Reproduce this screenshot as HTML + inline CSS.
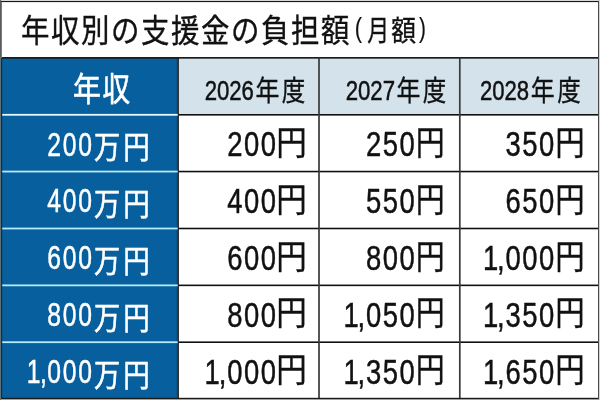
<!DOCTYPE html>
<html lang="ja"><head><meta charset="utf-8"><title>年収別の支援金の負担額（月額）</title>
<style>
html,body{margin:0;padding:0;background:#fff;width:600px;height:400px;overflow:hidden}
svg{display:block}
text{font-kerning:none}
</style></head><body>
<svg width="600" height="400" viewBox="0 0 600 400">
<rect x="0.00" y="0.00" width="600.00" height="400.00" fill="#fff"/>
<rect x="0.00" y="0.00" width="600.00" height="1.00" fill="#ececec"/>
<rect x="0.00" y="399.00" width="600.00" height="1.00" fill="#a0a0a0"/>
<rect x="599.00" y="0.00" width="1.00" height="400.00" fill="#d4d4d4"/>
<rect x="1.60" y="57.85" width="176.70" height="340.55" fill="#075f9d"/>
<rect x="178.30" y="57.85" width="420.00" height="56.95" fill="#d3e2eb"/>
<rect x="176.30" y="57.85" width="1.60" height="340.55" fill="#0a5288"/>
<rect x="1.60" y="113.90" width="176.70" height="1.80" fill="#e8f9ff"/>
<rect x="178.30" y="114.00" width="420.00" height="1.60" fill="#111111"/>
<rect x="1.60" y="170.65" width="176.70" height="1.80" fill="#b2ecfc"/>
<rect x="178.30" y="170.75" width="420.00" height="1.60" fill="#111111"/>
<rect x="1.60" y="227.60" width="176.70" height="1.80" fill="#b2ecfc"/>
<rect x="178.30" y="227.70" width="420.00" height="1.60" fill="#111111"/>
<rect x="1.60" y="284.45" width="176.70" height="1.80" fill="#b2ecfc"/>
<rect x="178.30" y="284.55" width="420.00" height="1.60" fill="#111111"/>
<rect x="1.60" y="341.30" width="176.70" height="1.80" fill="#b2ecfc"/>
<rect x="178.30" y="341.40" width="420.00" height="1.60" fill="#111111"/>
<rect x="1.60" y="57.05" width="596.70" height="1.60" fill="#111111"/>
<rect x="318.15" y="57.85" width="1.70" height="340.55" fill="#3a3a3a"/>
<rect x="458.95" y="57.85" width="1.70" height="340.55" fill="#3a3a3a"/>
<rect x="177.70" y="57.85" width="1.20" height="340.55" fill="#222222"/>
<rect x="1.00" y="0.90" width="597.90" height="1.20" fill="#1a1a1a"/>
<rect x="1.00" y="397.80" width="597.90" height="1.20" fill="#1a1a1a"/>
<rect x="1.00" y="57.85" width="1.20" height="341.15" fill="#0e2f4a"/>
<rect x="598.00" y="0.90" width="1.00" height="398.10" fill="#4a4a4a"/>
<rect x="0.00" y="0.00" width="1.00" height="57.85" fill="#5c5c5c"/>
<rect x="1.00" y="2.10" width="0.90" height="55.75" fill="#6a6a6a"/>
<rect x="0.00" y="57.85" width="1.00" height="342.15" fill="#5e7078"/>
<text x="21.00" y="41.80" font-family="'Liberation Sans', 'Noto Sans CJK JP', sans-serif" font-size="32.30" fill="#111111" stroke="#111111" stroke-width="0.35" textLength="28.43" lengthAdjust="spacingAndGlyphs">年</text>
<text x="51.00" y="41.80" font-family="'Liberation Sans', 'Noto Sans CJK JP', sans-serif" font-size="32.30" fill="#111111" stroke="#111111" stroke-width="0.35" textLength="28.43" lengthAdjust="spacingAndGlyphs">収</text>
<text x="81.00" y="41.80" font-family="'Liberation Sans', 'Noto Sans CJK JP', sans-serif" font-size="32.30" fill="#111111" stroke="#111111" stroke-width="0.35" textLength="28.43" lengthAdjust="spacingAndGlyphs">別</text>
<text x="111.00" y="41.80" font-family="'Liberation Sans', 'Noto Sans CJK JP', sans-serif" font-size="32.30" fill="#111111" stroke="#111111" stroke-width="0.35" textLength="28.43" lengthAdjust="spacingAndGlyphs">の</text>
<text x="141.00" y="41.80" font-family="'Liberation Sans', 'Noto Sans CJK JP', sans-serif" font-size="32.30" fill="#111111" stroke="#111111" stroke-width="0.35" textLength="28.43" lengthAdjust="spacingAndGlyphs">支</text>
<text x="171.00" y="41.80" font-family="'Liberation Sans', 'Noto Sans CJK JP', sans-serif" font-size="32.30" fill="#111111" stroke="#111111" stroke-width="0.35" textLength="28.43" lengthAdjust="spacingAndGlyphs">援</text>
<text x="201.00" y="41.80" font-family="'Liberation Sans', 'Noto Sans CJK JP', sans-serif" font-size="32.30" fill="#111111" stroke="#111111" stroke-width="0.35" textLength="28.43" lengthAdjust="spacingAndGlyphs">金</text>
<text x="231.00" y="41.80" font-family="'Liberation Sans', 'Noto Sans CJK JP', sans-serif" font-size="32.30" fill="#111111" stroke="#111111" stroke-width="0.35" textLength="28.43" lengthAdjust="spacingAndGlyphs">の</text>
<text x="261.00" y="41.80" font-family="'Liberation Sans', 'Noto Sans CJK JP', sans-serif" font-size="32.30" fill="#111111" stroke="#111111" stroke-width="0.35" textLength="28.43" lengthAdjust="spacingAndGlyphs">負</text>
<text x="291.00" y="41.80" font-family="'Liberation Sans', 'Noto Sans CJK JP', sans-serif" font-size="32.30" fill="#111111" stroke="#111111" stroke-width="0.35" textLength="28.43" lengthAdjust="spacingAndGlyphs">担</text>
<text x="321.00" y="41.80" font-family="'Liberation Sans', 'Noto Sans CJK JP', sans-serif" font-size="32.30" fill="#111111" stroke="#111111" stroke-width="0.35" textLength="28.43" lengthAdjust="spacingAndGlyphs">額</text>
<text x="354.79" y="37.10" font-family="'Liberation Sans', sans-serif" font-size="27.40" fill="#111111" stroke="#111111" stroke-width="0.2" textLength="7.29" lengthAdjust="spacingAndGlyphs">(</text>
<text x="367.22" y="40.60" font-family="'Liberation Sans', 'Noto Sans CJK JP', sans-serif" font-size="28.90" fill="#111111" stroke="#111111" stroke-width="0.35" textLength="21.96" lengthAdjust="spacingAndGlyphs">月</text>
<text x="391.26" y="40.60" font-family="'Liberation Sans', 'Noto Sans CJK JP', sans-serif" font-size="28.90" fill="#111111" stroke="#111111" stroke-width="0.35" textLength="24.79" lengthAdjust="spacingAndGlyphs">額</text>
<text x="419.09" y="37.10" font-family="'Liberation Sans', sans-serif" font-size="27.40" fill="#111111" stroke="#111111" stroke-width="0.2" textLength="6.92" lengthAdjust="spacingAndGlyphs">)</text>
<text x="72.90" y="100.60" font-family="'Liberation Sans', 'Noto Sans CJK JP', sans-serif" font-size="32.50" fill="#ffffff" stroke="#ffffff" stroke-width="0.6" textLength="27.96" lengthAdjust="spacingAndGlyphs">年</text>
<text x="102.53" y="100.60" font-family="'Liberation Sans', 'Noto Sans CJK JP', sans-serif" font-size="32.50" fill="#ffffff" stroke="#ffffff" stroke-width="0.6" textLength="27.60" lengthAdjust="spacingAndGlyphs">収</text>
<text x="204.64" y="99.60" font-family="'Liberation Sans', sans-serif" font-size="27.60" fill="#111111" stroke="#111111" stroke-width="0.5" textLength="49.33" lengthAdjust="spacingAndGlyphs">2026</text>
<text x="255.48" y="100.60" font-family="'Liberation Sans', 'Noto Sans CJK JP', sans-serif" font-size="28.10" fill="#111111" stroke="#111111" stroke-width="0.35" textLength="23.92" lengthAdjust="spacingAndGlyphs">年</text>
<text x="281.85" y="100.60" font-family="'Liberation Sans', 'Noto Sans CJK JP', sans-serif" font-size="28.10" fill="#111111" stroke="#111111" stroke-width="0.35" textLength="23.53" lengthAdjust="spacingAndGlyphs">度</text>
<text x="345.64" y="99.60" font-family="'Liberation Sans', sans-serif" font-size="27.60" fill="#111111" stroke="#111111" stroke-width="0.5" textLength="49.45" lengthAdjust="spacingAndGlyphs">2027</text>
<text x="396.48" y="100.60" font-family="'Liberation Sans', 'Noto Sans CJK JP', sans-serif" font-size="28.10" fill="#111111" stroke="#111111" stroke-width="0.35" textLength="23.92" lengthAdjust="spacingAndGlyphs">年</text>
<text x="422.85" y="100.60" font-family="'Liberation Sans', 'Noto Sans CJK JP', sans-serif" font-size="28.10" fill="#111111" stroke="#111111" stroke-width="0.35" textLength="23.53" lengthAdjust="spacingAndGlyphs">度</text>
<text x="479.94" y="99.60" font-family="'Liberation Sans', sans-serif" font-size="27.60" fill="#111111" stroke="#111111" stroke-width="0.5" textLength="49.22" lengthAdjust="spacingAndGlyphs">2028</text>
<text x="530.78" y="100.60" font-family="'Liberation Sans', 'Noto Sans CJK JP', sans-serif" font-size="28.10" fill="#111111" stroke="#111111" stroke-width="0.35" textLength="23.92" lengthAdjust="spacingAndGlyphs">年</text>
<text x="557.15" y="100.60" font-family="'Liberation Sans', 'Noto Sans CJK JP', sans-serif" font-size="28.10" fill="#111111" stroke="#111111" stroke-width="0.35" textLength="23.53" lengthAdjust="spacingAndGlyphs">度</text>
<text x="78.24" y="155.60" font-family="'Liberation Sans', sans-serif" font-size="32.60" fill="#ffffff" stroke="#ffffff" stroke-width="0.5" textLength="13.73" lengthAdjust="spacingAndGlyphs">0</text>
<text x="62.74" y="155.60" font-family="'Liberation Sans', sans-serif" font-size="32.60" fill="#ffffff" stroke="#ffffff" stroke-width="0.5" textLength="13.73" lengthAdjust="spacingAndGlyphs">0</text>
<text x="47.24" y="155.60" font-family="'Liberation Sans', sans-serif" font-size="32.60" fill="#ffffff" stroke="#ffffff" stroke-width="0.5" textLength="13.73" lengthAdjust="spacingAndGlyphs">2</text>
<text x="93.98" y="158.10" font-family="'Liberation Sans', 'Noto Sans CJK JP', sans-serif" font-size="30.50" fill="#ffffff" stroke="#ffffff" stroke-width="0.6" textLength="26.19" lengthAdjust="spacingAndGlyphs">万</text>
<text x="123.22" y="158.10" font-family="'Liberation Sans', 'Noto Sans CJK JP', sans-serif" font-size="30.50" fill="#ffffff" stroke="#ffffff" stroke-width="0.6" textLength="26.43" lengthAdjust="spacingAndGlyphs">円</text>
<text x="78.24" y="212.45" font-family="'Liberation Sans', sans-serif" font-size="32.60" fill="#ffffff" stroke="#ffffff" stroke-width="0.5" textLength="13.73" lengthAdjust="spacingAndGlyphs">0</text>
<text x="62.74" y="212.45" font-family="'Liberation Sans', sans-serif" font-size="32.60" fill="#ffffff" stroke="#ffffff" stroke-width="0.5" textLength="13.73" lengthAdjust="spacingAndGlyphs">0</text>
<text x="47.30" y="212.45" font-family="'Liberation Sans', sans-serif" font-size="32.60" fill="#ffffff" stroke="#ffffff" stroke-width="0.5" textLength="13.73" lengthAdjust="spacingAndGlyphs">4</text>
<text x="93.98" y="214.95" font-family="'Liberation Sans', 'Noto Sans CJK JP', sans-serif" font-size="30.50" fill="#ffffff" stroke="#ffffff" stroke-width="0.6" textLength="26.19" lengthAdjust="spacingAndGlyphs">万</text>
<text x="123.22" y="214.95" font-family="'Liberation Sans', 'Noto Sans CJK JP', sans-serif" font-size="30.50" fill="#ffffff" stroke="#ffffff" stroke-width="0.6" textLength="26.43" lengthAdjust="spacingAndGlyphs">円</text>
<text x="78.24" y="269.30" font-family="'Liberation Sans', sans-serif" font-size="32.60" fill="#ffffff" stroke="#ffffff" stroke-width="0.5" textLength="13.73" lengthAdjust="spacingAndGlyphs">0</text>
<text x="62.74" y="269.30" font-family="'Liberation Sans', sans-serif" font-size="32.60" fill="#ffffff" stroke="#ffffff" stroke-width="0.5" textLength="13.73" lengthAdjust="spacingAndGlyphs">0</text>
<text x="47.18" y="269.30" font-family="'Liberation Sans', sans-serif" font-size="32.60" fill="#ffffff" stroke="#ffffff" stroke-width="0.5" textLength="13.73" lengthAdjust="spacingAndGlyphs">6</text>
<text x="93.98" y="271.80" font-family="'Liberation Sans', 'Noto Sans CJK JP', sans-serif" font-size="30.50" fill="#ffffff" stroke="#ffffff" stroke-width="0.6" textLength="26.19" lengthAdjust="spacingAndGlyphs">万</text>
<text x="123.22" y="271.80" font-family="'Liberation Sans', 'Noto Sans CJK JP', sans-serif" font-size="30.50" fill="#ffffff" stroke="#ffffff" stroke-width="0.6" textLength="26.43" lengthAdjust="spacingAndGlyphs">円</text>
<text x="78.24" y="326.15" font-family="'Liberation Sans', sans-serif" font-size="32.60" fill="#ffffff" stroke="#ffffff" stroke-width="0.5" textLength="13.73" lengthAdjust="spacingAndGlyphs">0</text>
<text x="62.74" y="326.15" font-family="'Liberation Sans', sans-serif" font-size="32.60" fill="#ffffff" stroke="#ffffff" stroke-width="0.5" textLength="13.73" lengthAdjust="spacingAndGlyphs">0</text>
<text x="47.18" y="326.15" font-family="'Liberation Sans', sans-serif" font-size="32.60" fill="#ffffff" stroke="#ffffff" stroke-width="0.5" textLength="13.73" lengthAdjust="spacingAndGlyphs">8</text>
<text x="93.98" y="328.65" font-family="'Liberation Sans', 'Noto Sans CJK JP', sans-serif" font-size="30.50" fill="#ffffff" stroke="#ffffff" stroke-width="0.6" textLength="26.19" lengthAdjust="spacingAndGlyphs">万</text>
<text x="123.22" y="328.65" font-family="'Liberation Sans', 'Noto Sans CJK JP', sans-serif" font-size="30.50" fill="#ffffff" stroke="#ffffff" stroke-width="0.6" textLength="26.43" lengthAdjust="spacingAndGlyphs">円</text>
<text x="78.24" y="383.00" font-family="'Liberation Sans', sans-serif" font-size="32.60" fill="#ffffff" stroke="#ffffff" stroke-width="0.5" textLength="13.73" lengthAdjust="spacingAndGlyphs">0</text>
<text x="62.74" y="383.00" font-family="'Liberation Sans', sans-serif" font-size="32.60" fill="#ffffff" stroke="#ffffff" stroke-width="0.5" textLength="13.73" lengthAdjust="spacingAndGlyphs">0</text>
<text x="47.24" y="383.00" font-family="'Liberation Sans', sans-serif" font-size="32.60" fill="#ffffff" stroke="#ffffff" stroke-width="0.5" textLength="13.73" lengthAdjust="spacingAndGlyphs">0</text>
<text x="40.07" y="383.00" font-family="'Liberation Sans', sans-serif" font-size="32.60" fill="#ffffff" stroke="#ffffff" stroke-width="0.5" textLength="6.86" lengthAdjust="spacingAndGlyphs">,</text>
<text x="26.63" y="383.00" font-family="'Liberation Sans', sans-serif" font-size="32.60" fill="#ffffff" stroke="#ffffff" stroke-width="0.5" textLength="13.73" lengthAdjust="spacingAndGlyphs">1</text>
<text x="93.98" y="385.50" font-family="'Liberation Sans', 'Noto Sans CJK JP', sans-serif" font-size="30.50" fill="#ffffff" stroke="#ffffff" stroke-width="0.6" textLength="26.19" lengthAdjust="spacingAndGlyphs">万</text>
<text x="123.22" y="385.50" font-family="'Liberation Sans', 'Noto Sans CJK JP', sans-serif" font-size="30.50" fill="#ffffff" stroke="#ffffff" stroke-width="0.6" textLength="26.43" lengthAdjust="spacingAndGlyphs">円</text>
<text x="260.63" y="156.20" font-family="'Liberation Sans', sans-serif" font-size="35.60" fill="#111111" stroke="#111111" stroke-width="0.5" textLength="15.25" lengthAdjust="spacingAndGlyphs">0</text>
<text x="243.93" y="156.20" font-family="'Liberation Sans', sans-serif" font-size="35.60" fill="#111111" stroke="#111111" stroke-width="0.5" textLength="15.25" lengthAdjust="spacingAndGlyphs">0</text>
<text x="227.23" y="156.20" font-family="'Liberation Sans', sans-serif" font-size="35.60" fill="#111111" stroke="#111111" stroke-width="0.5" textLength="15.25" lengthAdjust="spacingAndGlyphs">2</text>
<text x="276.13" y="154.80" font-family="'Liberation Sans', 'Noto Sans CJK JP', sans-serif" font-size="34.00" fill="#111111" stroke="#111111" stroke-width="0.35" textLength="30.49" lengthAdjust="spacingAndGlyphs">円</text>
<text x="399.43" y="156.20" font-family="'Liberation Sans', sans-serif" font-size="35.60" fill="#111111" stroke="#111111" stroke-width="0.5" textLength="15.25" lengthAdjust="spacingAndGlyphs">0</text>
<text x="382.73" y="156.20" font-family="'Liberation Sans', sans-serif" font-size="35.60" fill="#111111" stroke="#111111" stroke-width="0.5" textLength="15.25" lengthAdjust="spacingAndGlyphs">5</text>
<text x="366.03" y="156.20" font-family="'Liberation Sans', sans-serif" font-size="35.60" fill="#111111" stroke="#111111" stroke-width="0.5" textLength="15.25" lengthAdjust="spacingAndGlyphs">2</text>
<text x="415.87" y="154.80" font-family="'Liberation Sans', 'Noto Sans CJK JP', sans-serif" font-size="34.00" fill="#111111" stroke="#111111" stroke-width="0.35" textLength="28.91" lengthAdjust="spacingAndGlyphs">円</text>
<text x="538.93" y="156.20" font-family="'Liberation Sans', sans-serif" font-size="35.60" fill="#111111" stroke="#111111" stroke-width="0.5" textLength="15.25" lengthAdjust="spacingAndGlyphs">0</text>
<text x="522.23" y="156.20" font-family="'Liberation Sans', sans-serif" font-size="35.60" fill="#111111" stroke="#111111" stroke-width="0.5" textLength="15.25" lengthAdjust="spacingAndGlyphs">5</text>
<text x="505.60" y="156.20" font-family="'Liberation Sans', sans-serif" font-size="35.60" fill="#111111" stroke="#111111" stroke-width="0.5" textLength="15.25" lengthAdjust="spacingAndGlyphs">3</text>
<text x="555.13" y="154.80" font-family="'Liberation Sans', 'Noto Sans CJK JP', sans-serif" font-size="34.00" fill="#111111" stroke="#111111" stroke-width="0.35" textLength="29.40" lengthAdjust="spacingAndGlyphs">円</text>
<text x="260.63" y="213.05" font-family="'Liberation Sans', sans-serif" font-size="35.60" fill="#111111" stroke="#111111" stroke-width="0.5" textLength="15.25" lengthAdjust="spacingAndGlyphs">0</text>
<text x="243.93" y="213.05" font-family="'Liberation Sans', sans-serif" font-size="35.60" fill="#111111" stroke="#111111" stroke-width="0.5" textLength="15.25" lengthAdjust="spacingAndGlyphs">0</text>
<text x="227.30" y="213.05" font-family="'Liberation Sans', sans-serif" font-size="35.60" fill="#111111" stroke="#111111" stroke-width="0.5" textLength="15.25" lengthAdjust="spacingAndGlyphs">4</text>
<text x="276.13" y="211.65" font-family="'Liberation Sans', 'Noto Sans CJK JP', sans-serif" font-size="34.00" fill="#111111" stroke="#111111" stroke-width="0.35" textLength="30.49" lengthAdjust="spacingAndGlyphs">円</text>
<text x="399.43" y="213.05" font-family="'Liberation Sans', sans-serif" font-size="35.60" fill="#111111" stroke="#111111" stroke-width="0.5" textLength="15.25" lengthAdjust="spacingAndGlyphs">0</text>
<text x="382.73" y="213.05" font-family="'Liberation Sans', sans-serif" font-size="35.60" fill="#111111" stroke="#111111" stroke-width="0.5" textLength="15.25" lengthAdjust="spacingAndGlyphs">5</text>
<text x="366.03" y="213.05" font-family="'Liberation Sans', sans-serif" font-size="35.60" fill="#111111" stroke="#111111" stroke-width="0.5" textLength="15.25" lengthAdjust="spacingAndGlyphs">5</text>
<text x="415.87" y="211.65" font-family="'Liberation Sans', 'Noto Sans CJK JP', sans-serif" font-size="34.00" fill="#111111" stroke="#111111" stroke-width="0.35" textLength="28.91" lengthAdjust="spacingAndGlyphs">円</text>
<text x="538.93" y="213.05" font-family="'Liberation Sans', sans-serif" font-size="35.60" fill="#111111" stroke="#111111" stroke-width="0.5" textLength="15.25" lengthAdjust="spacingAndGlyphs">0</text>
<text x="522.23" y="213.05" font-family="'Liberation Sans', sans-serif" font-size="35.60" fill="#111111" stroke="#111111" stroke-width="0.5" textLength="15.25" lengthAdjust="spacingAndGlyphs">5</text>
<text x="505.46" y="213.05" font-family="'Liberation Sans', sans-serif" font-size="35.60" fill="#111111" stroke="#111111" stroke-width="0.5" textLength="15.25" lengthAdjust="spacingAndGlyphs">6</text>
<text x="555.13" y="211.65" font-family="'Liberation Sans', 'Noto Sans CJK JP', sans-serif" font-size="34.00" fill="#111111" stroke="#111111" stroke-width="0.35" textLength="29.40" lengthAdjust="spacingAndGlyphs">円</text>
<text x="260.63" y="269.90" font-family="'Liberation Sans', sans-serif" font-size="35.60" fill="#111111" stroke="#111111" stroke-width="0.5" textLength="15.25" lengthAdjust="spacingAndGlyphs">0</text>
<text x="243.93" y="269.90" font-family="'Liberation Sans', sans-serif" font-size="35.60" fill="#111111" stroke="#111111" stroke-width="0.5" textLength="15.25" lengthAdjust="spacingAndGlyphs">0</text>
<text x="227.16" y="269.90" font-family="'Liberation Sans', sans-serif" font-size="35.60" fill="#111111" stroke="#111111" stroke-width="0.5" textLength="15.25" lengthAdjust="spacingAndGlyphs">6</text>
<text x="276.13" y="268.50" font-family="'Liberation Sans', 'Noto Sans CJK JP', sans-serif" font-size="34.00" fill="#111111" stroke="#111111" stroke-width="0.35" textLength="30.49" lengthAdjust="spacingAndGlyphs">円</text>
<text x="399.43" y="269.90" font-family="'Liberation Sans', sans-serif" font-size="35.60" fill="#111111" stroke="#111111" stroke-width="0.5" textLength="15.25" lengthAdjust="spacingAndGlyphs">0</text>
<text x="382.73" y="269.90" font-family="'Liberation Sans', sans-serif" font-size="35.60" fill="#111111" stroke="#111111" stroke-width="0.5" textLength="15.25" lengthAdjust="spacingAndGlyphs">0</text>
<text x="365.96" y="269.90" font-family="'Liberation Sans', sans-serif" font-size="35.60" fill="#111111" stroke="#111111" stroke-width="0.5" textLength="15.25" lengthAdjust="spacingAndGlyphs">8</text>
<text x="415.87" y="268.50" font-family="'Liberation Sans', 'Noto Sans CJK JP', sans-serif" font-size="34.00" fill="#111111" stroke="#111111" stroke-width="0.35" textLength="28.91" lengthAdjust="spacingAndGlyphs">円</text>
<text x="538.93" y="269.90" font-family="'Liberation Sans', sans-serif" font-size="35.60" fill="#111111" stroke="#111111" stroke-width="0.5" textLength="15.25" lengthAdjust="spacingAndGlyphs">0</text>
<text x="522.23" y="269.90" font-family="'Liberation Sans', sans-serif" font-size="35.60" fill="#111111" stroke="#111111" stroke-width="0.5" textLength="15.25" lengthAdjust="spacingAndGlyphs">0</text>
<text x="505.53" y="269.90" font-family="'Liberation Sans', sans-serif" font-size="35.60" fill="#111111" stroke="#111111" stroke-width="0.5" textLength="15.25" lengthAdjust="spacingAndGlyphs">0</text>
<text x="496.93" y="269.90" font-family="'Liberation Sans', sans-serif" font-size="35.60" fill="#111111" stroke="#111111" stroke-width="0.5" textLength="7.62" lengthAdjust="spacingAndGlyphs">,</text>
<text x="482.89" y="269.90" font-family="'Liberation Sans', sans-serif" font-size="35.60" fill="#111111" stroke="#111111" stroke-width="0.5" textLength="15.25" lengthAdjust="spacingAndGlyphs">1</text>
<text x="555.13" y="268.50" font-family="'Liberation Sans', 'Noto Sans CJK JP', sans-serif" font-size="34.00" fill="#111111" stroke="#111111" stroke-width="0.35" textLength="29.40" lengthAdjust="spacingAndGlyphs">円</text>
<text x="260.63" y="326.75" font-family="'Liberation Sans', sans-serif" font-size="35.60" fill="#111111" stroke="#111111" stroke-width="0.5" textLength="15.25" lengthAdjust="spacingAndGlyphs">0</text>
<text x="243.93" y="326.75" font-family="'Liberation Sans', sans-serif" font-size="35.60" fill="#111111" stroke="#111111" stroke-width="0.5" textLength="15.25" lengthAdjust="spacingAndGlyphs">0</text>
<text x="227.16" y="326.75" font-family="'Liberation Sans', sans-serif" font-size="35.60" fill="#111111" stroke="#111111" stroke-width="0.5" textLength="15.25" lengthAdjust="spacingAndGlyphs">8</text>
<text x="276.13" y="325.35" font-family="'Liberation Sans', 'Noto Sans CJK JP', sans-serif" font-size="34.00" fill="#111111" stroke="#111111" stroke-width="0.35" textLength="30.49" lengthAdjust="spacingAndGlyphs">円</text>
<text x="399.43" y="326.75" font-family="'Liberation Sans', sans-serif" font-size="35.60" fill="#111111" stroke="#111111" stroke-width="0.5" textLength="15.25" lengthAdjust="spacingAndGlyphs">0</text>
<text x="382.73" y="326.75" font-family="'Liberation Sans', sans-serif" font-size="35.60" fill="#111111" stroke="#111111" stroke-width="0.5" textLength="15.25" lengthAdjust="spacingAndGlyphs">5</text>
<text x="366.03" y="326.75" font-family="'Liberation Sans', sans-serif" font-size="35.60" fill="#111111" stroke="#111111" stroke-width="0.5" textLength="15.25" lengthAdjust="spacingAndGlyphs">0</text>
<text x="357.43" y="326.75" font-family="'Liberation Sans', sans-serif" font-size="35.60" fill="#111111" stroke="#111111" stroke-width="0.5" textLength="7.62" lengthAdjust="spacingAndGlyphs">,</text>
<text x="343.39" y="326.75" font-family="'Liberation Sans', sans-serif" font-size="35.60" fill="#111111" stroke="#111111" stroke-width="0.5" textLength="15.25" lengthAdjust="spacingAndGlyphs">1</text>
<text x="415.87" y="325.35" font-family="'Liberation Sans', 'Noto Sans CJK JP', sans-serif" font-size="34.00" fill="#111111" stroke="#111111" stroke-width="0.35" textLength="28.91" lengthAdjust="spacingAndGlyphs">円</text>
<text x="538.93" y="326.75" font-family="'Liberation Sans', sans-serif" font-size="35.60" fill="#111111" stroke="#111111" stroke-width="0.5" textLength="15.25" lengthAdjust="spacingAndGlyphs">0</text>
<text x="522.23" y="326.75" font-family="'Liberation Sans', sans-serif" font-size="35.60" fill="#111111" stroke="#111111" stroke-width="0.5" textLength="15.25" lengthAdjust="spacingAndGlyphs">5</text>
<text x="505.60" y="326.75" font-family="'Liberation Sans', sans-serif" font-size="35.60" fill="#111111" stroke="#111111" stroke-width="0.5" textLength="15.25" lengthAdjust="spacingAndGlyphs">3</text>
<text x="496.93" y="326.75" font-family="'Liberation Sans', sans-serif" font-size="35.60" fill="#111111" stroke="#111111" stroke-width="0.5" textLength="7.62" lengthAdjust="spacingAndGlyphs">,</text>
<text x="482.89" y="326.75" font-family="'Liberation Sans', sans-serif" font-size="35.60" fill="#111111" stroke="#111111" stroke-width="0.5" textLength="15.25" lengthAdjust="spacingAndGlyphs">1</text>
<text x="555.13" y="325.35" font-family="'Liberation Sans', 'Noto Sans CJK JP', sans-serif" font-size="34.00" fill="#111111" stroke="#111111" stroke-width="0.35" textLength="29.40" lengthAdjust="spacingAndGlyphs">円</text>
<text x="260.63" y="383.60" font-family="'Liberation Sans', sans-serif" font-size="35.60" fill="#111111" stroke="#111111" stroke-width="0.5" textLength="15.25" lengthAdjust="spacingAndGlyphs">0</text>
<text x="243.93" y="383.60" font-family="'Liberation Sans', sans-serif" font-size="35.60" fill="#111111" stroke="#111111" stroke-width="0.5" textLength="15.25" lengthAdjust="spacingAndGlyphs">0</text>
<text x="227.23" y="383.60" font-family="'Liberation Sans', sans-serif" font-size="35.60" fill="#111111" stroke="#111111" stroke-width="0.5" textLength="15.25" lengthAdjust="spacingAndGlyphs">0</text>
<text x="218.63" y="383.60" font-family="'Liberation Sans', sans-serif" font-size="35.60" fill="#111111" stroke="#111111" stroke-width="0.5" textLength="7.62" lengthAdjust="spacingAndGlyphs">,</text>
<text x="204.59" y="383.60" font-family="'Liberation Sans', sans-serif" font-size="35.60" fill="#111111" stroke="#111111" stroke-width="0.5" textLength="15.25" lengthAdjust="spacingAndGlyphs">1</text>
<text x="276.13" y="382.20" font-family="'Liberation Sans', 'Noto Sans CJK JP', sans-serif" font-size="34.00" fill="#111111" stroke="#111111" stroke-width="0.35" textLength="30.49" lengthAdjust="spacingAndGlyphs">円</text>
<text x="399.43" y="383.60" font-family="'Liberation Sans', sans-serif" font-size="35.60" fill="#111111" stroke="#111111" stroke-width="0.5" textLength="15.25" lengthAdjust="spacingAndGlyphs">0</text>
<text x="382.73" y="383.60" font-family="'Liberation Sans', sans-serif" font-size="35.60" fill="#111111" stroke="#111111" stroke-width="0.5" textLength="15.25" lengthAdjust="spacingAndGlyphs">5</text>
<text x="366.10" y="383.60" font-family="'Liberation Sans', sans-serif" font-size="35.60" fill="#111111" stroke="#111111" stroke-width="0.5" textLength="15.25" lengthAdjust="spacingAndGlyphs">3</text>
<text x="357.43" y="383.60" font-family="'Liberation Sans', sans-serif" font-size="35.60" fill="#111111" stroke="#111111" stroke-width="0.5" textLength="7.62" lengthAdjust="spacingAndGlyphs">,</text>
<text x="343.39" y="383.60" font-family="'Liberation Sans', sans-serif" font-size="35.60" fill="#111111" stroke="#111111" stroke-width="0.5" textLength="15.25" lengthAdjust="spacingAndGlyphs">1</text>
<text x="415.87" y="382.20" font-family="'Liberation Sans', 'Noto Sans CJK JP', sans-serif" font-size="34.00" fill="#111111" stroke="#111111" stroke-width="0.35" textLength="28.91" lengthAdjust="spacingAndGlyphs">円</text>
<text x="538.93" y="383.60" font-family="'Liberation Sans', sans-serif" font-size="35.60" fill="#111111" stroke="#111111" stroke-width="0.5" textLength="15.25" lengthAdjust="spacingAndGlyphs">0</text>
<text x="522.23" y="383.60" font-family="'Liberation Sans', sans-serif" font-size="35.60" fill="#111111" stroke="#111111" stroke-width="0.5" textLength="15.25" lengthAdjust="spacingAndGlyphs">5</text>
<text x="505.46" y="383.60" font-family="'Liberation Sans', sans-serif" font-size="35.60" fill="#111111" stroke="#111111" stroke-width="0.5" textLength="15.25" lengthAdjust="spacingAndGlyphs">6</text>
<text x="496.93" y="383.60" font-family="'Liberation Sans', sans-serif" font-size="35.60" fill="#111111" stroke="#111111" stroke-width="0.5" textLength="7.62" lengthAdjust="spacingAndGlyphs">,</text>
<text x="482.89" y="383.60" font-family="'Liberation Sans', sans-serif" font-size="35.60" fill="#111111" stroke="#111111" stroke-width="0.5" textLength="15.25" lengthAdjust="spacingAndGlyphs">1</text>
<text x="555.13" y="382.20" font-family="'Liberation Sans', 'Noto Sans CJK JP', sans-serif" font-size="34.00" fill="#111111" stroke="#111111" stroke-width="0.35" textLength="29.40" lengthAdjust="spacingAndGlyphs">円</text>
</svg>
</body></html>
